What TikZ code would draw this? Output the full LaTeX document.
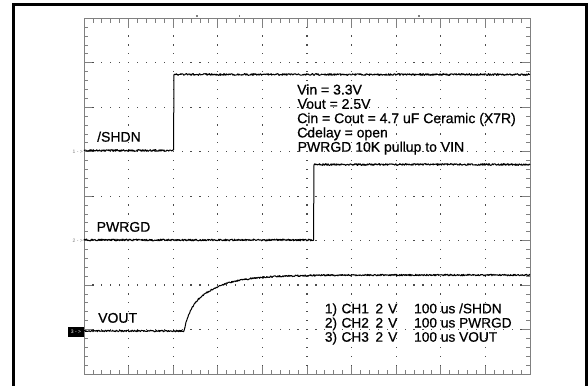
\documentclass[tikz,border=0pt]{standalone}
\usepackage{fontspec}
\setmainfont{Liberation Sans}
\newfontfamily\txtfont[FakeBold=0.6]{Liberation Sans}
\definecolor{gridc}{gray}{0.5}
\definecolor{dotc}{gray}{0.3}
\begin{document}
\begin{tikzpicture}[x=1pt,y=-1pt,
  trace/.style={black,line width=1pt,line join=round},
  tick/.style={gridc,line width=0.8pt},
  lbl/.style={anchor=base west,inner sep=0pt,font=\txtfont\fontsize{14}{14}\selectfont},
  ann/.style={anchor=base west,inner sep=0pt,font=\txtfont\fontsize{14}{14}\selectfont},
  leg/.style={anchor=base west,inner sep=0pt,font=\txtfont\fontsize{13.7}{13.7}\selectfont},
  chmark/.style={anchor=east,inner sep=0pt,text=gray,font=\fontsize{5}{5}\selectfont}]
\useasboundingbox (0,0) rectangle (588,385);
\fill[white] (0,0) rectangle (588,385);
% outer frame
\draw[line width=3pt] (13,386) -- (13,4.5) -- (586.5,4.5) -- (586.5,386);
% dotted grid
\foreach \j in {1,...,7}{
  \foreach \k in {1,...,49}{
    \fill[dotc] ({84+8.92*\k-0.6},{18.3+44.46*\j-0.6}) rectangle ++(1.2,1.2);
  }
}
\foreach \i in {1,...,9}{
  \foreach \k in {1,...,39}{
    \fill[dotc] ({84+44.6*\i-0.6},{18.3+8.8925*\k-0.6}) rectangle ++(1.2,1.2);
  }
}
% graticule border and ticks
\draw[gridc,line width=0.9pt] (84,18.3) rectangle (530,374);
\foreach \k in {1,...,49}{
  \pgfmathsetmacro\L{mod(\k,5)==0 ? 10 : 5}
  \pgfmathsetmacro\B{mod(\k,5)==0 ? 8 : 4}
  \draw[tick] ({84+8.92*\k},18.3) -- ++(0,\L);
  \draw[tick] ({84+8.92*\k},374) -- ++(0,-\B);
}
\foreach \k in {1,...,39}{
  \pgfmathsetmacro\L{mod(\k,5)==0 ? 8 : 4}
  \draw[tick] (84,{18.3+8.8925*\k}) -- ++(\L,0);
  \draw[tick] (530,{18.3+8.8925*\k}) -- ++(-\L,0);
}
% small marks above graticule
\fill[gridc] (196,14.8) rectangle (198,16.6);
\fill[gridc] (238.5,14.8) rectangle (240,16.6);
\fill[gridc] (417.5,14.8) rectangle (419.5,16.6);
% traces
\pgfmathsetseed{11}
\draw[trace] plot[domain=84:173.5,samples=180] (\x,{150.5+0.9*rand})
  -- (174,74.5) -- plot[domain=174.5:530,samples=700] (\x,{74.5+0.9*rand});
\draw[trace] plot[domain=84:313.5,samples=460] (\x,{240+0.9*rand})
  -- (314,164.5) -- plot[domain=314.5:530,samples=430] (\x,{164.5+0.9*rand});
\draw[trace] plot[domain=84:184,samples=200] (\x,{331+0.8*rand})
  -- plot[domain=184.5:530,samples=690] (\x,{275+17*exp(max(-(\x-184)/5,-12))+39*exp(max(-(\x-184)/28,-12))+0.8*rand});
% channel markers
\node[chmark] (m1) at (83,152) {1 - >};
\node[chmark] (m2) at (83,240.5) {2 - >};
\node[fill=black,text=white,inner sep=0pt,minimum width=16pt,minimum height=10pt,font=\fontsize{5}{5}\selectfont] (m3) at (76,331.7) {3 - >};
% trace labels
\node[lbl] (l1) at (97,141.7) {/SHDN};
\node[lbl] (l2) at (96.5,231.7) {PWRGD};
\node[lbl] (l3) at (98,322.7) {VOUT};
% conditions
\node[ann] (a1) at (297,94.5) {Vin = 3.3V};
\node[ann] (a2) at (297.5,108.8) {Vout = 2.5V};
\node[ann] (a3) at (297,123.1) {Cin = Cout = 4.7 uF Ceramic (X7R)};
\node[ann] (a4) at (297,137.4) {Cdelay = open};
\node[ann] (a5) at (297.5,151.7) {PWRGD 10K pullup to VIN};
% legend
\node[leg] (g1) at (324.7,313.3) {\makebox[16.6pt][l]{1)}\makebox[34pt][l]{CH1}\makebox[12.7pt][l]{2}\makebox[26pt][l]{V}100 us /SHDN};
\node[leg] (g2) at (324.7,327.5) {\makebox[16.6pt][l]{2)}\makebox[34pt][l]{CH2}\makebox[12.7pt][l]{2}\makebox[26pt][l]{V}100 us PWRGD};
\node[leg] (g3) at (324.7,341.7) {\makebox[16.6pt][l]{3)}\makebox[34pt][l]{CH3}\makebox[12.7pt][l]{2}\makebox[26pt][l]{V}100 us VOUT};
\end{tikzpicture}
\end{document}
